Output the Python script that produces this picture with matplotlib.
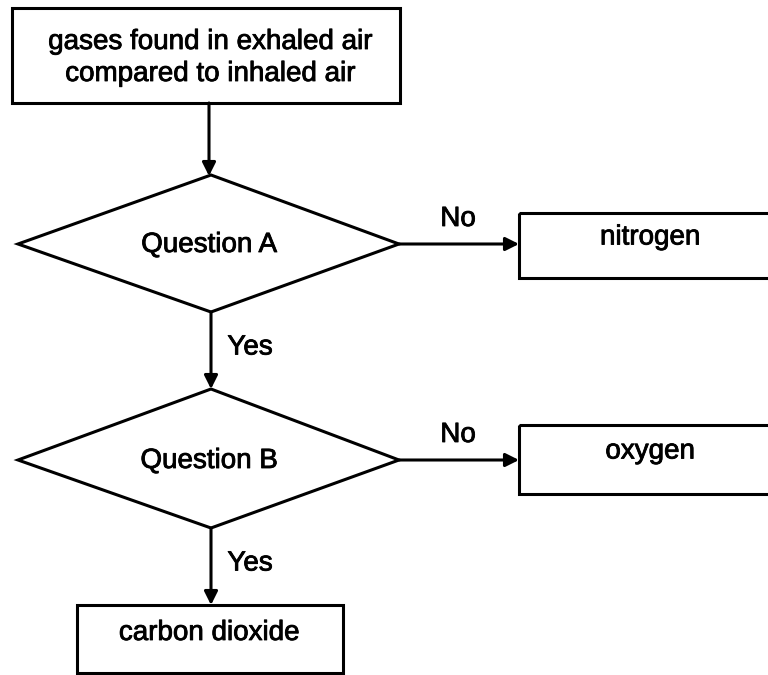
import matplotlib
matplotlib.use('Agg')
import matplotlib.pyplot as plt
import matplotlib.patheffects as pe
from matplotlib.patches import Polygon, Rectangle

plt.rcParams['font.family'] = ['Liberation Sans', 'DejaVu Sans']

# flowchart content
start_label = "gases found in exhaled air\ncompared to inhaled air"
questions = ["Question A", "Question B"]
no_answers = ["nitrogen", "oxygen"]
yes_answer = "carbon dioxide"
branch_labels = ["Yes", "No"]

fig = plt.figure(figsize=(7.68, 6.75), dpi=100)
ax = fig.add_axes([0, 0, 1, 1])
ax.set_xlim(0, 768)
ax.set_ylim(675, 0)
ax.axis('off')

lw = 2.2
fs = 20
# scanned text looks a little heavier than plain Arial
heavy = [pe.withStroke(linewidth=0.6, foreground='black')]

def label(x, y, s):
    ax.text(x, y, s, ha='center', va='center', fontsize=fs,
            linespacing=1.3, path_effects=heavy)

def box(x0, y0, x1, y1):
    ax.add_patch(Rectangle((x0, y0), x1 - x0, y1 - y0, fill=False,
                           edgecolor='black', lw=lw, clip_on=True))

def diamond(left, right, top, bottom, xc, yc):
    pts = [(left, yc), (xc, top), (right, yc), (xc, bottom)]
    ax.add_patch(Polygon(pts, closed=True, fill=False, edgecolor='black', lw=lw))

def arrow(x0, y0, x1, y1):
    ax.annotate('', xy=(x1, y1), xytext=(x0, y0),
                arrowprops=dict(arrowstyle='-|>', color='black', lw=lw,
                                mutation_scale=20, shrinkA=0, shrinkB=0))

# start box
box(12, 8, 400, 103)
label(210, 58, start_label)
arrow(209, 103, 209, 176)

# question diamonds
q_y = [244, 460]
q_top = [175, 389]
q_bot = [312, 528]
box_rows = [(213, 278), (425, 494)]
for i in range(2):
    diamond(18, 399, q_top[i], q_bot[i], 211, q_y[i])
    label(209, q_y[i] + 1, questions[i])
    # "No" branch to the right
    arrow(399, q_y[i], 519, q_y[i])
    label(458, q_y[i] - 25, branch_labels[1])
    y0, y1 = box_rows[i]
    box(519, y0, 780, y1)
    label(650, (y0 + y1) / 2 - 8, no_answers[i])
    # "Yes" branch down
    end_y = 389 if i == 0 else 605
    arrow(211, q_bot[i], 211, end_y)
    label(250, (q_bot[i] + end_y) / 2 - 3, branch_labels[0])

# final box
box(77, 605, 343, 673)
label(209, 633, yes_answer)

fig.savefig('out.png', dpi=100, facecolor='white')
